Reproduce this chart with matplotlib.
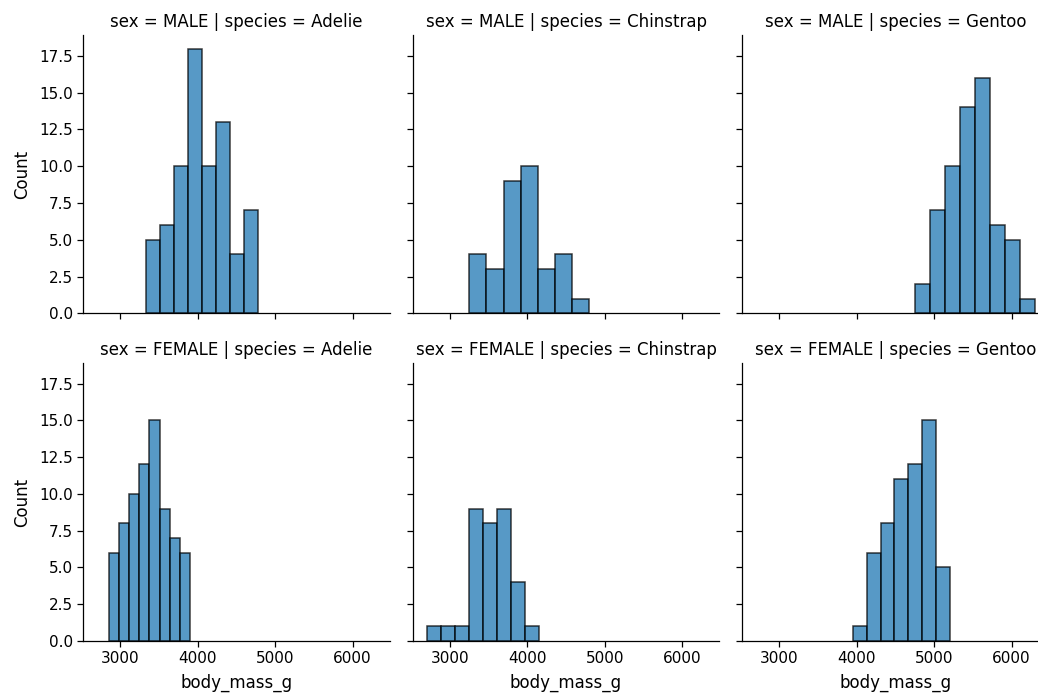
import numpy as np
import matplotlib
matplotlib.use("Agg")
import matplotlib.pyplot as plt
import seaborn as sns

sns.set_theme(style="ticks")
plt.rcParams['font.family'] = ['DejaVu Sans']
plt.rcParams.update({
    "text.color": "black",
    "axes.labelcolor": "black",
    "axes.edgecolor": "black",
    "xtick.color": "black",
    "ytick.color": "black",
    "xtick.major.size": 4,
    "ytick.major.size": 4,
    "xtick.major.width": 0.9,
    "ytick.major.width": 0.9,
    "axes.linewidth": 0.9,
})

sexes = ["MALE", "FEMALE"]
species = ["Adelie", "Chinstrap", "Gentoo"]

# body mass range (g) and bin counts for every sex / species facet
male_ranges = [(3325, 4775), (3250, 4800), (4750, 6300)]
male_counts = [
    [5, 6, 10, 18, 10, 13, 4, 7],
    [4, 3, 9, 10, 3, 4, 1],
    [2, 7, 10, 14, 16, 6, 5, 1],
]
female_ranges = [(2850, 3900), (2700, 4150), (3950, 5200)]
female_counts = [
    [6, 8, 10, 12, 15, 9, 7, 6],
    [1, 1, 1, 9, 8, 9, 4, 1],
    [1, 6, 8, 11, 12, 15, 5],
]

ranges = {"MALE": male_ranges, "FEMALE": female_ranges}
counts = {"MALE": male_counts, "FEMALE": female_counts}

fig, axes = plt.subplots(2, 3, sharex=True, sharey=True, figsize=(10.38, 6.98), dpi=100)

W, H = 1038.0, 698.0
ax_w, ax_h = 306.5, 278.0
lefts = [83.3, 412.8, 742.3]
bottoms = [313.3, 641.0]

for r, sex in enumerate(sexes):
    for c, sp in enumerate(species):
        ax = axes[r, c]
        ax.set_position([lefts[c] / W, 1 - bottoms[r] / H, ax_w / W, ax_h / H])
        lo, hi = ranges[sex][c]
        vals = counts[sex][c]
        edges = np.linspace(lo, hi, len(vals) + 1)
        ax.bar(edges[:-1], vals, width=np.diff(edges), align="edge",
               color="#1f77b4", alpha=0.75, edgecolor="black", linewidth=1.1)
        ax.set_title(f"sex = {sex} | species = {sp}", fontsize=12)
        if c == 0:
            ax.set_ylabel("Count", fontsize=12, labelpad=6)
        if r == 1:
            ax.set_xlabel("body_mass_g", fontsize=12, labelpad=5.5)
        ax.tick_params(labelsize=11)
        sns.despine(ax=ax)

axes[0, 0].set_xlim(2520, 6480)
axes[0, 0].set_ylim(0, 18.9)
axes[0, 0].set_xticks([3000, 4000, 5000, 6000])
axes[0, 0].set_yticks(np.arange(0, 18, 2.5))

fig.savefig("out.png", dpi=100)
